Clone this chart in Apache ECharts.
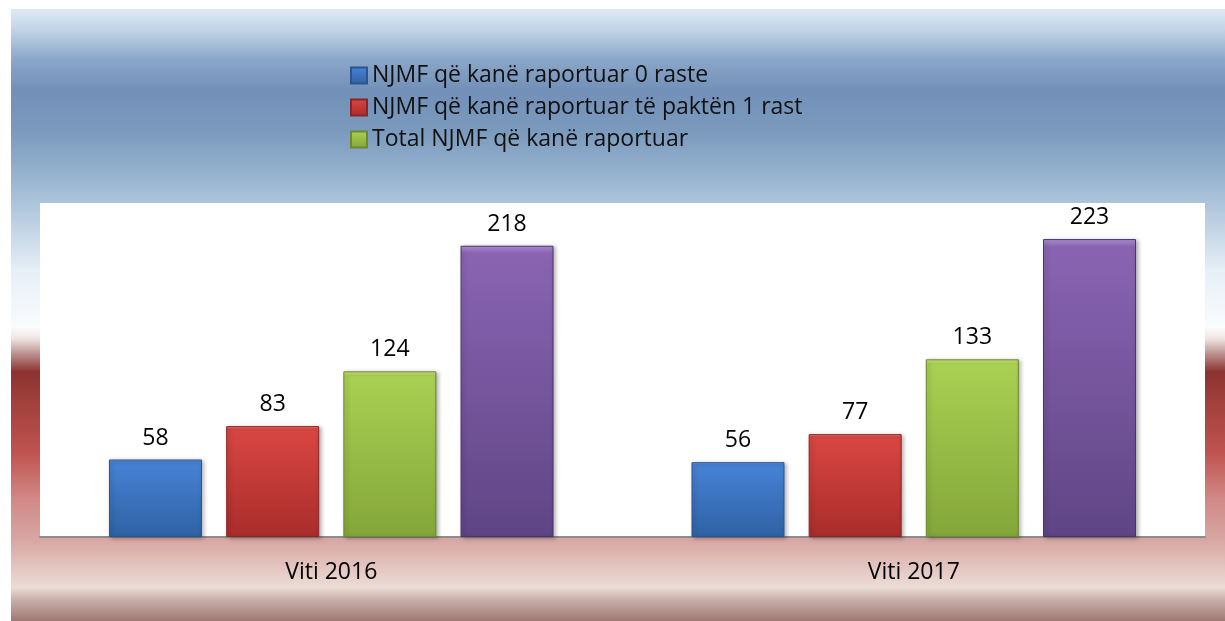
<!doctype html>
<html>
<head>
<meta charset="utf-8">
<script src="https://cdn.jsdelivr.net/npm/echarts@6/dist/echarts.min.js"></script>
<style>
  html, body { margin: 0; padding: 0; background: #fff; }
  #main { position: absolute; left: 11px; top: 9px; width: 1214px; height: 612px; }
</style>
</head>
<body>
<div id="main"></div>
<script type="text/javascript">
var categories = ['Viti 2016', 'Viti 2017'];
var seriesNames = ['NJMF që kanë raportuar 0 raste', 'NJMF që kanë raportuar të paktën 1 rast', 'Total NJMF që kanë raportuar', 'Seria 4'];
var zeroCases = [58, 56];
var atLeastOne = [83, 77];
var totalReported = [124, 133];
var fourth = [218, 223];

var myChart = echarts.init(document.getElementById('main'));

function barColor(light, top, bottom) {
  return {
    type: 'linear', x: 0, y: 0, x2: 0, y2: 1,
    colorStops: [
      {offset: 0, color: light},
      {offset: 0.025, color: top},
      {offset: 1, color: bottom}
    ]
  };
}

var labelStyle = {show: true, position: 'top', distance: 10, fontSize: 23, color: '#000', fontFamily: 'Open Sans'};

function makeSeries(name, data, light, top, bottom, border) {
  return {
    name: name,
    type: 'bar',
    data: data,
    barWidth: 93,
    barGap: '26%',
    label: labelStyle,
    itemStyle: {
      color: barColor(light, top, bottom),
      borderColor: border,
      borderWidth: 1,
      shadowBlur: 4,
      shadowOffsetX: 2,
      shadowOffsetY: 1,
      shadowColor: 'rgba(0,0,0,0.3)'
    }
  };
}

var option = {
  backgroundColor: {
    type: 'linear', x: 0, y: 0, x2: 0, y2: 1,
    colorStops: [
      {offset: 0, color: '#dfe9f3'},
      {offset: 0.034, color: '#c2d4e6'},
      {offset: 0.083, color: '#8aa6c8'},
      {offset: 0.132, color: '#7390b8'},
      {offset: 0.198, color: '#7a9abd'},
      {offset: 0.263, color: '#93b0cc'},
      {offset: 0.345, color: '#bacfe1'},
      {offset: 0.426, color: '#e6eef6'},
      {offset: 0.52, color: '#fafcfd'},
      {offset: 0.538, color: '#f0e6e4'},
      {offset: 0.56, color: '#c29c9a'},
      {offset: 0.593, color: '#8b3230'},
      {offset: 0.63, color: '#9c3d39'},
      {offset: 0.725, color: '#c0534f'},
      {offset: 0.8, color: '#d18886'},
      {offset: 0.87, color: '#d8a8a4'},
      {offset: 0.945, color: '#ecdcd6'},
      {offset: 0.965, color: '#c8b0ab'},
      {offset: 1, color: '#9f7874'}
    ]
  },
  legend: {
    data: seriesNames.slice(0, 3),
    orient: 'vertical',
    left: 339,
    top: 55,
    padding: 0,
    itemWidth: 16,
    itemHeight: 16,
    itemGap: 9,
    icon: 'rect',
    textStyle: {fontSize: 23, color: '#111', fontFamily: 'Open Sans'}
  },
  grid: {
    left: 29, right: 20, top: 194, bottom: 84,
    show: true, backgroundColor: '#fff', borderWidth: 0
  },
  xAxis: {
    type: 'category',
    data: categories,
    axisLine: {lineStyle: {color: '#8c8c8c', width: 2}},
    axisTick: {show: false},
    axisLabel: {fontSize: 23, color: '#000', margin: 24, fontFamily: 'Open Sans'}
  },
  yAxis: {
    type: 'value',
    min: 0,
    max: 250,
    show: false,
    splitLine: {show: false}
  },
  series: [
    makeSeries(seriesNames[0], zeroCases, '#7fb0ee', '#4782d6', '#2f62a3', '#2a5590'),
    makeSeries(seriesNames[1], atLeastOne, '#f08a86', '#d94642', '#a82d2b', '#8c2524'),
    makeSeries(seriesNames[2], totalReported, '#cbe888', '#a9d052', '#84a63a', '#6c8a2c'),
    makeSeries(seriesNames[3], fourth, '#b295dc', '#8a64b2', '#5f4585', '#4a3568')
  ]
};

myChart.setOption(option);
</script>
</body>
</html>
